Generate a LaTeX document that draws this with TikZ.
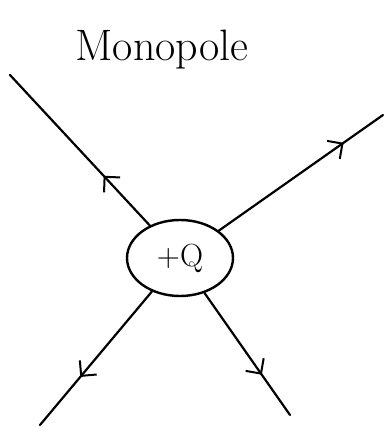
\documentclass[tikz,border=0pt]{standalone}
\usepackage{fontspec}
\usepackage{tikz}
\usetikzlibrary{arrows.meta, positioning, shapes.geometric, decorations.markings}

\begin{document}
\begin{tikzpicture}[x=1pt, y=-1pt,
        fieldline/.style={line width=2.2pt, line cap=round, postaction={decorate},
            decoration={markings, mark=at position #1 with {\arrow{Straight Barb[length=11pt, width=22pt, line width=2pt]}}}},
        charge/.style={draw, ellipse, line width=2.4pt, minimum width=106pt, minimum height=76pt, inner sep=0pt}]
                \useasboundingbox (0,0) rectangle (385,427);
                \node (title) at (162,50) {\fontsize{44}{50}\selectfont Monopole};
                \node[charge] (q) at (180,258) {\fontsize{32}{36}\selectfont +Q};
                \coordinate (ul) at (10,75);
                \coordinate (ur) at (383,115);
                \coordinate (ll) at (40,425);
                \coordinate (lr) at (290,415);
                \draw[fieldline=0.33] (q) -- (ul);
                \draw[fieldline=0.76] (q) -- (ur);
                \draw[fieldline=0.64] (q) -- (ll);
                \draw[fieldline=0.67] (q) -- (lr);
            \end{tikzpicture}
\end{document}
